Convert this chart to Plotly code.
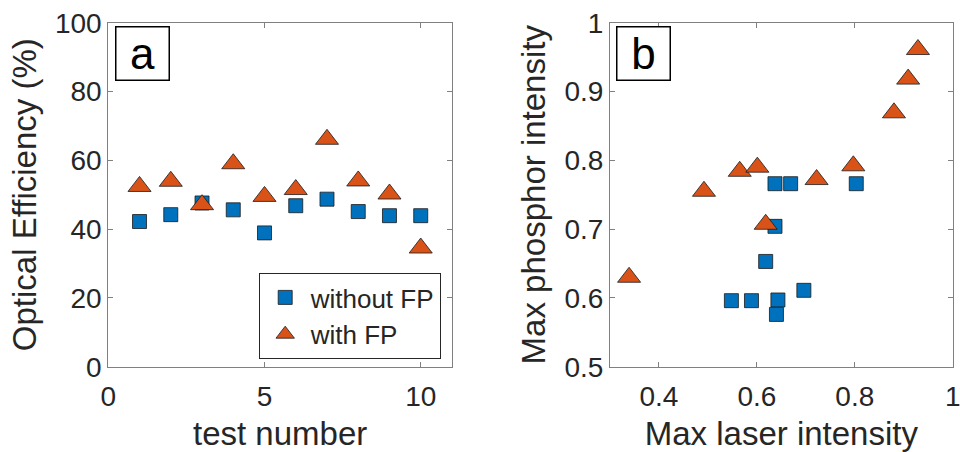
import plotly.graph_objects as go

# ---- data: panel a ----
test_number = [1, 2, 3, 4, 5, 6, 7, 8, 9, 10]
eff_without_fp = [42.2, 44.2, 47.6, 45.6, 38.9, 46.8, 48.7, 45.1, 43.9, 43.9]
eff_with_fp = [52.4, 53.9, 47.1, 59.0, 49.5, 51.5, 66.1, 54.0, 50.2, 34.5]

# ---- data: panel b ----
laser_without_fp = [0.548, 0.589, 0.637, 0.669, 0.637, 0.618, 0.643, 0.640, 0.696, 0.803]
phosphor_without_fp = [0.596, 0.596, 0.766, 0.766, 0.704, 0.653, 0.597, 0.576, 0.611, 0.766]
laser_with_fp = [0.339, 0.492, 0.565, 0.601, 0.618, 0.722, 0.797, 0.880, 0.909, 0.929]
phosphor_with_fp = [0.630, 0.755, 0.784, 0.790, 0.707, 0.772, 0.792, 0.869, 0.918, 0.961]

# ---- ticks ----
xa_ticks = [0, 5, 10]
xa_labels = ["0", "5", "10"]
ya_ticks = [0, 20, 40, 60, 80, 100]
ya_labels = ["0", "20", "40", "60", "80", "100"]
xb_ticks = [0.4, 0.6, 0.8, 1.0]
xb_labels = ["0.4", "0.6", "0.8", "1"]
yb_ticks = [0.5, 0.6, 0.7, 0.8, 0.9, 1.0]
yb_labels = ["0.5", "0.6", "0.7", "0.8", "0.9", "1"]

BLUE = "#0072BD"
ORANGE = "#D95319"
TXT = "#262626"
AX = "#808080"
FONT = "Liberation Sans, Arial, sans-serif"

sq = dict(symbol="square", size=14, color=BLUE, line=dict(color="#1a1a1a", width=0.8))
tri = dict(symbol="triangle-up", size=20, color=ORANGE, line=dict(color="#1a1a1a", width=0.8))

fig = go.Figure()
fig.add_trace(go.Scatter(x=test_number, y=eff_without_fp, mode="markers", marker=sq,
                         name="without FP", xaxis="x", yaxis="y"))
fig.add_trace(go.Scatter(x=test_number, y=eff_with_fp, mode="markers", marker=tri,
                         name="with FP", xaxis="x", yaxis="y"))
fig.add_trace(go.Scatter(x=laser_without_fp, y=phosphor_without_fp, mode="markers", marker=sq,
                         name="without FP", showlegend=False, xaxis="x2", yaxis="y2"))
fig.add_trace(go.Scatter(x=laser_with_fp, y=phosphor_with_fp, mode="markers", marker=tri,
                         name="with FP", showlegend=False, xaxis="x2", yaxis="y2"))

common = dict(showline=True, linecolor=AX, linewidth=1, mirror="ticks", ticks="inside",
              ticklen=5, tickcolor=AX, showgrid=False, zeroline=False,
              ticklabeloverflow="allow",
              tickfont=dict(family=FONT, size=28, color=TXT), automargin=False)

ydom = [0.1887, 0.9498]
fig.update_layout(
    width=960, height=452,
    margin=dict(l=0, r=0, t=0, b=0),
    paper_bgcolor="white", plot_bgcolor="white",
    font=dict(family=FONT, color=TXT),
    xaxis=dict(domain=[0.1128, 0.4708], range=[0, 11], tickvals=xa_ticks, ticktext=xa_labels,
               anchor="y", ticklabelstandoff=5,
               title=dict(text="test number", font=dict(size=33, color=TXT), standoff=15),
               **common),
    yaxis=dict(domain=ydom, range=[0, 100], tickvals=ya_ticks, ticktext=ya_labels, anchor="x",
               title=dict(text="Optical Efficiency (%)", font=dict(size=33, color=TXT), standoff=8),
               **common),
    xaxis2=dict(domain=[0.6354, 0.9924], range=[0.3, 1.0], tickvals=xb_ticks, ticktext=xb_labels,
                anchor="y2", ticklabelstandoff=5,
                title=dict(text="Max laser intensity", font=dict(size=33, color=TXT), standoff=15),
                **common),
    yaxis2=dict(domain=ydom, range=[0.5, 1.0], tickvals=yb_ticks, ticktext=yb_labels, anchor="x2",
                title=dict(text="Max phosphor intensity", font=dict(size=33, color=TXT), standoff=8),
                **common),
    showlegend=True,
    legend=dict(x=440.7 / 960, y=1 - 359 / 452, xanchor="right", yanchor="bottom",
                bgcolor="white", bordercolor="#262626", borderwidth=1, itemwidth=41,
                font=dict(family=FONT, size=26, color=TXT), tracegroupgap=0),
)

for label, cx in (("a", 142.5), ("b", 643.7)):
    fig.add_annotation(text=label, x=cx / 960, y=1 - 54 / 452, xref="paper", yref="paper",
                       xanchor="center", yanchor="middle", showarrow=False,
                       font=dict(family=FONT, size=44, color="black"),
                       width=50, height=50, bgcolor="white", bordercolor="black",
                       borderwidth=1.5, borderpad=1)

fig.write_html("out.html", config={"displayModeBar": False},
               post_script="document.body.style.margin='0';")
